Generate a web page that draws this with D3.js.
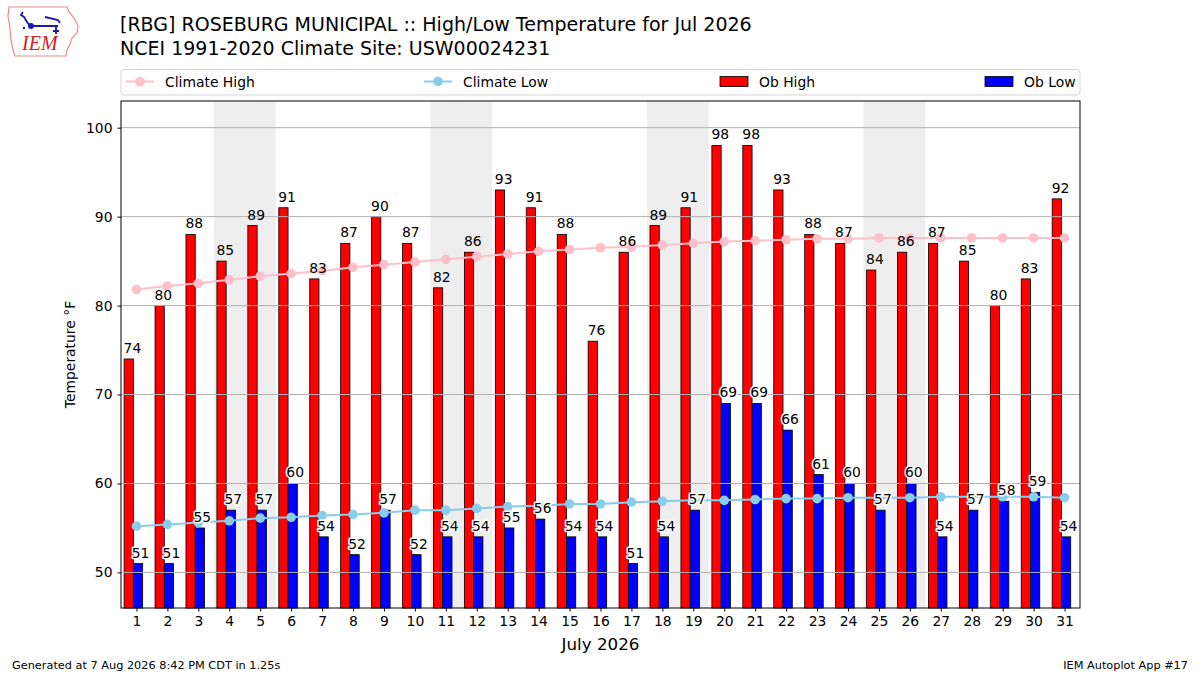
<!DOCTYPE html>
<html>
<head>
<meta charset="utf-8">
<script src="https://cdn.jsdelivr.net/npm/d3@7"></script>
<style>
	body { margin: 0; background: #fff; }
	text { font-family: "DejaVu Sans", sans-serif; fill: #000; }
</style>
</head>
<body>
<div id="chart"></div>
<script>

// observed data, July 2026, Roseburg (RBG)
const days = d3.range(1, 32);
const obHigh = [74, 80, 88, 85, 89, 91, 83, 87, 90, 87, 82, 86, 93, 91, 88, 76,
	86, 89, 91, 98, 98, 93, 88, 87, 84, 86, 87, 85, 80, 83, 92];
const obLow = [51, 51, 55, 57, 57, 60, 54, 52, 57, 52, 54, 54, 55, 56, 54, 54,
	51, 54, 57, 69, 69, 66, 61, 60, 57, 60, 54, 57, 58, 59, 54];

// NCEI 1991-2020 daily normals
const climateHigh = [81.8, 82.2, 82.5, 82.9, 83.3, 83.6, 83.9, 84.3, 84.6, 84.9, 85.2,
	85.5, 85.8, 86.1, 86.3, 86.5, 86.6, 86.8, 87.0, 87.2, 87.3, 87.4, 87.5, 87.5,
	87.6, 87.6, 87.6, 87.6, 87.6, 87.6, 87.6];
const climateLow = [55.2, 55.4, 55.6, 55.8, 56.1, 56.2, 56.4, 56.5, 56.7, 57.0, 57.0,
	57.2, 57.4, 57.5, 57.7, 57.7, 57.9, 58.0, 58.1, 58.1, 58.2, 58.3, 58.3, 58.4,
	58.4, 58.4, 58.5, 58.5, 58.5, 58.5, 58.4];

// weekends get a grey band
const weekendStarts = [4, 11, 18, 25];

const yTicks = [50, 60, 70, 80, 90, 100];

const titleLines = [
	"[RBG] ROSEBURG MUNICIPAL :: High/Low Temperature for Jul 2026",
	"NCEI 1991-2020 Climate Site: USW00024231"
];
const legendLabels = ["Climate High", "Climate Low", "Ob High", "Ob Low"];


class TempVis {

	constructor(_parentElement) {
		this.parentElement = _parentElement;

		// define colors
		this.colors = {high: '#ff0000', low: '#0000ff', climHigh: 'pink', climLow: 'skyblue'};
		this.fontSize = "13.9px";

		this.initVis();
	}

	initVis() {
		let vis = this;

		vis.width = 1200;
		vis.height = 675;
		vis.plot = {left: 121, right: 1080, top: 101, bottom: 608};

		vis.svg = d3.select("#" + vis.parentElement).append("svg")
			.attr("width", vis.width)
			.attr("height", vis.height);

		vis.x = d3.scaleLinear()
			.domain([0.5, 31.5])
			.range([vis.plot.left, vis.plot.right]);

		vis.y = d3.scaleLinear()
			.domain([46, 103])
			.range([vis.plot.bottom, vis.plot.top]);

		vis.drawLogo();

		// title
		vis.svg.selectAll(".title")
			.data(titleLines)
			.enter().append("text")
			.attr("class", "title")
			.attr("x", 120)
			.attr("y", (d, i) => 31 + i * 24)
			.style("font-size", "19px")
			.text(d => d);

		vis.wrangleData();
	}

	drawLogo() {
		let vis = this;
		let logo = vis.svg.append("g").attr("class", "logo");

		// rough state outline
		logo.append("path")
			.attr("d", "M9,7 L67,7 L69,12 L74,18 L78,26 L77,33 L72,38 L70,44 L67,50 L66,56 L15,56 L13,50 L11,40 L10,28 L8,16 Z")
			.attr("fill", "none")
			.attr("stroke", "#ec8a8a")
			.attr("stroke-width", 1.2);

		// little weather station glyph
		logo.append("path")
			.attr("d", "M23,12 L21,15 L24,17 L27,22 L30,26 L58,26 M45,17 L58,20 L60,23 M56,26 L56,34 M53,31 L59,31")
			.attr("fill", "none")
			.attr("stroke", "#1a1ab0")
			.attr("stroke-width", 1.8);
		logo.append("circle").attr("cx", 31).attr("cy", 26).attr("r", 3).attr("fill", "#1a1ab0");
		logo.append("circle").attr("cx", 24).attr("cy", 28).attr("r", 1.2).attr("fill", "#1a1ab0");

		logo.append("text")
			.attr("x", 22)
			.attr("y", 50)
			.style("font-family", "Liberation Serif, serif")
			.style("font-style", "italic")
			.style("font-size", "20px")
			.style("fill", "#d42020")
			.text("IEM");
	}

	wrangleData() {
		let vis = this;

		vis.displayData = days.map((d, i) => ({
			day: d,
			high: obHigh[i],
			low: obLow[i],
			climHigh: climateHigh[i],
			climLow: climateLow[i]
		}));

		vis.updateVis();
	}

	updateVis() {
		let vis = this;
		let p = vis.plot;

		// weekend bands
		vis.svg.selectAll(".weekend")
			.data(weekendStarts)
			.enter().append("rect")
			.attr("class", "weekend")
			.attr("x", d => vis.x(d - 0.5))
			.attr("y", p.top)
			.attr("width", d => vis.x(d + 1.5) - vis.x(d - 0.5))
			.attr("height", p.bottom - p.top)
			.attr("fill", "#eeeeee");

		// bars
		let barW = vis.x(0.3) - vis.x(0);

		vis.svg.selectAll(".bar-high")
			.data(vis.displayData)
			.enter().append("rect")
			.attr("class", "bar-high")
			.attr("x", d => vis.x(d.day - 0.4))
			.attr("y", d => vis.y(d.high))
			.attr("width", barW)
			.attr("height", d => p.bottom - vis.y(d.high))
			.attr("fill", vis.colors.high)
			.attr("stroke", "#000")
			.attr("stroke-width", 0.8);

		vis.svg.selectAll(".bar-low")
			.data(vis.displayData)
			.enter().append("rect")
			.attr("class", "bar-low")
			.attr("x", d => vis.x(d.day - 0.1))
			.attr("y", d => vis.y(d.low))
			.attr("width", barW)
			.attr("height", d => p.bottom - vis.y(d.low))
			.attr("fill", vis.colors.low)
			.attr("stroke", "#000")
			.attr("stroke-width", 0.8);

		// grid sits over the bars, like the original
		vis.svg.append("g")
			.attr("class", "grid")
			.selectAll("line")
			.data(yTicks)
			.enter().append("line")
			.attr("x1", p.left)
			.attr("x2", p.right)
			.attr("y1", d => vis.y(d))
			.attr("y2", d => vis.y(d))
			.attr("stroke", "#b0b0b0")
			.attr("stroke-width", 1);

		// climate lines
		let series = [
			{key: "climHigh", color: vis.colors.climHigh},
			{key: "climLow", color: vis.colors.climLow}
		];

		series.forEach(s => {
			let line = d3.line()
				.x(d => vis.x(d.day))
				.y(d => vis.y(d[s.key]));

			vis.svg.append("path")
				.datum(vis.displayData)
				.attr("d", line)
				.attr("fill", "none")
				.attr("stroke", s.color)
				.attr("stroke-width", 2);

			vis.svg.selectAll(".pt-" + s.key)
				.data(vis.displayData)
				.enter().append("circle")
				.attr("class", "pt-" + s.key)
				.attr("cx", d => vis.x(d.day))
				.attr("cy", d => vis.y(d[s.key]))
				.attr("r", 4.8)
				.attr("fill", s.color);
		});

		// value labels with white halo
		let labels = vis.svg.append("g")
			.style("font-size", vis.fontSize)
			.attr("text-anchor", "middle");

		labels.selectAll(".lab-high")
			.data(vis.displayData)
			.enter().append("text")
			.attr("x", d => vis.x(d.day - 0.13))
			.attr("y", d => vis.y(d.high) - 6)
			.text(d => d.high);

		labels.selectAll(".lab-low")
			.data(vis.displayData)
			.enter().append("text")
			.attr("x", d => vis.x(d.day + 0.13))
			.attr("y", d => vis.y(d.low) - 6)
			.attr("stroke", "#fff")
			.attr("stroke-width", 3)
			.attr("stroke-linejoin", "round")
			.attr("paint-order", "stroke")
			.text(d => d.low);

		// axes
		let xAxis = d3.axisBottom(vis.x)
			.tickValues(days)
			.tickSize(3.5)
			.tickPadding(5);

		let yAxis = d3.axisLeft(vis.y)
			.tickValues(yTicks)
			.tickSize(3.5)
			.tickPadding(5);

		let gx = vis.svg.append("g")
			.attr("class", "x-axis axis")
			.attr("transform", `translate(0, ${p.bottom})`)
			.call(xAxis);

		let gy = vis.svg.append("g")
			.attr("class", "y-axis axis")
			.attr("transform", `translate(${p.left}, 0)`)
			.call(yAxis);

		[gx, gy].forEach(g => {
			g.select(".domain").remove();
			g.selectAll("text").style("font-size", vis.fontSize).style("font-family", "DejaVu Sans, sans-serif").attr("fill", "#000");
			g.selectAll("line").attr("stroke", "#000");
		});

		// frame
		vis.svg.append("rect")
			.attr("x", p.left)
			.attr("y", p.top)
			.attr("width", p.right - p.left)
			.attr("height", p.bottom - p.top)
			.attr("fill", "none")
			.attr("stroke", "#000")
			.attr("stroke-width", 1);

		// axis titles
		vis.svg.append("text")
			.attr("transform", `translate(75, ${(p.top + p.bottom) / 2}) rotate(-90)`)
			.attr("text-anchor", "middle")
			.style("font-size", vis.fontSize)
			.text("Temperature °F");

		vis.svg.append("text")
			.attr("x", (p.left + p.right) / 2)
			.attr("y", 650)
			.attr("text-anchor", "middle")
			.style("font-size", "16.7px")
			.text("July 2026");

		vis.drawLegend();

		// footer
		vis.svg.append("text")
			.attr("x", 12)
			.attr("y", 669)
			.style("font-size", "11.3px")
			.text("Generated at 7 Aug 2026 8:42 PM CDT in 1.25s");

		vis.svg.append("text")
			.attr("x", 1188)
			.attr("y", 669)
			.attr("text-anchor", "end")
			.style("font-size", "11.3px")
			.text("IEM Autoplot App #17");
	}

	drawLegend() {
		let vis = this;
		let p = vis.plot;

		vis.legend = vis.svg.append("g").attr("class", "legend");

		vis.legend.append("rect")
			.attr("x", p.left)
			.attr("y", 69.5)
			.attr("width", p.right - p.left)
			.attr("height", 25.5)
			.attr("rx", 3)
			.attr("fill", "#fff")
			.attr("stroke", "#d5d5d5");

		let cy = 81.5;
		// matplotlib "expand" mode spreads the four entries across the box
		let xs = [126, 424, 720, 985];

		let items = vis.legend.selectAll(".item")
			.data(legendLabels)
			.enter().append("g")
			.attr("class", "item")
			.attr("transform", (d, i) => `translate(${xs[i]}, 0)`);

		items.each(function (d, i) {
			let g = d3.select(this);
			if (i < 2) {
				let c = i === 0 ? vis.colors.climHigh : vis.colors.climLow;
				g.append("line")
					.attr("x1", 0).attr("x2", 28)
					.attr("y1", cy).attr("y2", cy)
					.attr("stroke", c).attr("stroke-width", 2);
				g.append("circle")
					.attr("cx", 14).attr("cy", cy).attr("r", 4.8).attr("fill", c);
			} else {
				g.append("rect")
					.attr("x", 0).attr("y", cy - 5)
					.attr("width", 28).attr("height", 10)
					.attr("fill", i === 2 ? vis.colors.high : vis.colors.low)
					.attr("stroke", "#000").attr("stroke-width", 0.8);
			}
			g.append("text")
				.attr("x", 39)
				.attr("y", cy + 5)
				.style("font-size", vis.fontSize)
				.text(d);
		});
	}
}

let tempVis = new TempVis("chart");

</script>
</body>
</html>
